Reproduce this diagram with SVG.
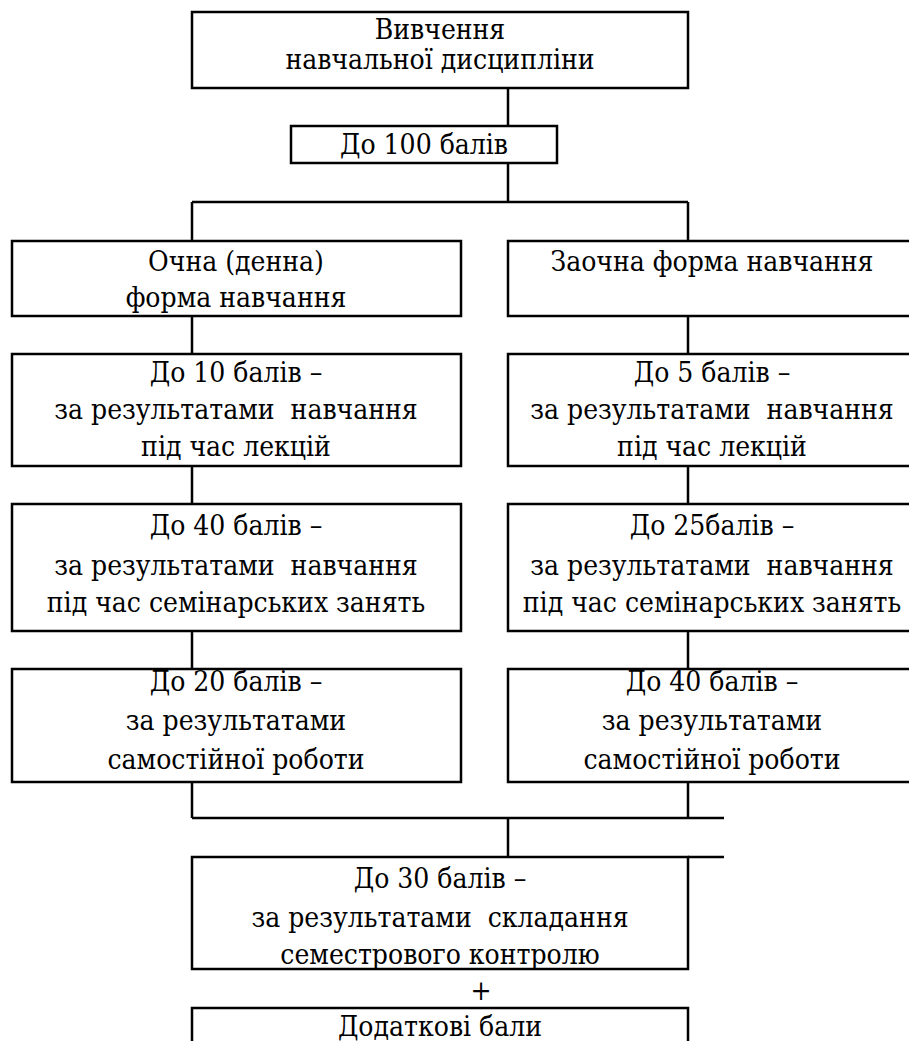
<svg xmlns="http://www.w3.org/2000/svg" width="909" height="1041" viewBox="0 0 909 1041">
<style>
.box{fill:#fff;stroke:#000;stroke-width:2.5}
.ln{fill:none;stroke:#000;stroke-width:2.5}
.t{font-family:'DejaVu Serif Condensed','DejaVu Serif',serif;font-stretch:condensed;font-size:28px;fill:#000;text-anchor:middle}
</style>
<rect width="909" height="1041" fill="#fff"/>
<g id="connectors">
<path class="ln" d="M508 88V126M508 163V202M192 202H688M192 202V241M688 202V241"/>
<path class="ln" d="M192 316V354M688 316V354M192 466V504M688 466V504M192 631V669M688 631V669"/>
<path class="ln" d="M192 782V818M688 782V818M192 818H724M508 818V857M688 857H724"/>
</g>
<g id="n1"><rect class="box" x="192" y="12" width="496" height="76"/>
<text class="t" x="440" y="39">Вивчення</text><text class="t" x="440" y="69">навчальної дисципліни</text></g>
<g id="n2"><rect class="box" x="291" y="126" width="266" height="37"/>
<text class="t" x="424" y="154">До 100 балів</text></g>
<g id="n3"><rect class="box" x="12" y="241" width="449" height="75"/>
<text class="t" x="236" y="271">Очна (денна)</text><text class="t" x="236" y="307">форма навчання</text></g>
<g id="n4"><rect class="box" x="508" y="241" width="410" height="75"/>
<text class="t" x="712" y="271">Заочна форма навчання</text></g>
<g id="n5"><rect class="box" x="12" y="354" width="449" height="112"/>
<text class="t" x="236" y="382">До 10 балів –</text><text class="t" x="236" y="419" xml:space="preserve">за результатами  навчання</text><text class="t" x="236" y="456">під час лекцій</text></g>
<g id="n6"><rect class="box" x="508" y="354" width="410" height="112"/>
<text class="t" x="712" y="382">До 5 балів –</text><text class="t" x="712" y="419" xml:space="preserve">за результатами  навчання</text><text class="t" x="712" y="456">під час лекцій</text></g>
<g id="n7"><rect class="box" x="12" y="504" width="449" height="127"/>
<text class="t" x="236" y="535">До 40 балів –</text><text class="t" x="236" y="575" xml:space="preserve">за результатами  навчання</text><text class="t" x="236" y="612">під час семінарських занять</text></g>
<g id="n8"><rect class="box" x="508" y="504" width="410" height="127"/>
<text class="t" x="712" y="535">До 25балів –</text><text class="t" x="712" y="575" xml:space="preserve">за результатами  навчання</text><text class="t" x="712" y="612">під час семінарських занять</text></g>
<g id="n9"><rect class="box" x="12" y="669" width="449" height="113"/>
<text class="t" x="236" y="691">До 20 балів –</text><text class="t" x="236" y="730">за результатами</text><text class="t" x="236" y="769">самостійної роботи</text></g>
<g id="n10"><rect class="box" x="508" y="669" width="410" height="113"/>
<text class="t" x="712" y="691">До 40 балів –</text><text class="t" x="712" y="730">за результатами</text><text class="t" x="712" y="769">самостійної роботи</text></g>
<g id="n11"><rect class="box" x="192" y="857" width="496" height="112"/>
<text class="t" x="440" y="888">До 30 балів –</text><text class="t" x="440" y="927" xml:space="preserve">за результатами  складання</text><text class="t" x="440" y="964">семестрового контролю</text></g>
<text class="t" x="481" y="1000">+</text>
<g id="n12"><rect class="box" x="192" y="1008" width="496" height="60"/>
<text class="t" x="440" y="1036">Додаткові бали</text></g>
</svg>
